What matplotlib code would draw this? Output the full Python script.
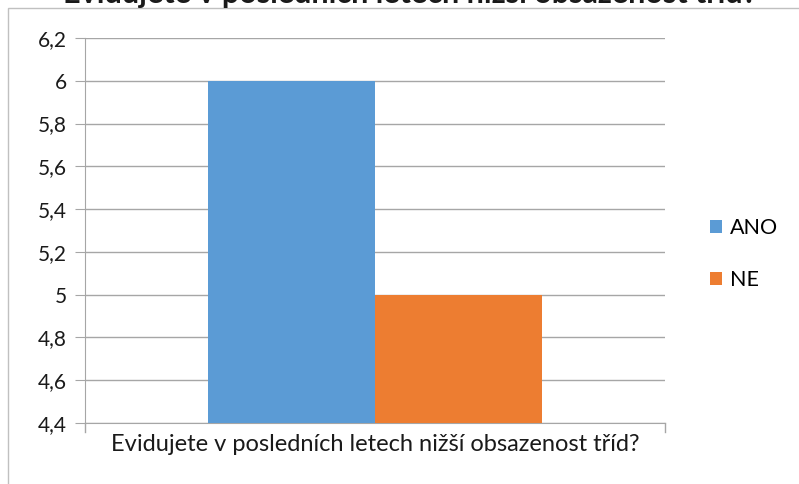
import numpy as np
import matplotlib.pyplot as plt
from matplotlib.patches import Rectangle

plt.rcParams['font.family'] = ['Lato', 'DejaVu Sans']

category = 'Evidujete v posledních letech nižší obsazenost tříd?'
series = ['ANO', 'NE']
values = [6, 5]
colors = ['#5B9BD5', '#ED7D31']
yticks = [4.4, 4.6, 4.8, 5.0, 5.2, 5.4, 5.6, 5.8, 6.0, 6.2]

W, H = 799, 484
fig = plt.figure(figsize=(W / 100, H / 100), dpi=100)
ax = fig.add_axes([85 / W, 1 - 423 / H, 580 / W, (423 - 38) / H])

bw = 0.288
offsets = [-bw / 2, bw / 2]
for s, v, col, o in zip(series, values, colors, offsets):
    ax.bar(o, v - 4.4, bottom=4.4, width=bw, color=col, label=s, zorder=3)

ax.set_xlim(-0.5, 0.5)
ax.set_ylim(4.4, 6.2)
ax.set_yticks(yticks)
ax.set_yticklabels([('%g' % t).replace('.', ',') for t in yticks], fontsize=15)
ax.set_xticks([])
ax.grid(axis='y', color='#a6a6a6', linewidth=1, zorder=0)
for sp in ['top', 'right']:
    ax.spines[sp].set_visible(False)
ax.spines['left'].set_color('#a6a6a6')
ax.spines['bottom'].set_color('#a6a6a6')
ax.tick_params(axis='y', length=7, color='#a6a6a6', pad=6, labelcolor='#1a1a1a')
ax.set_xlabel(category, fontsize=17, labelpad=8, color='#1a1a1a')
# little end ticks below x axis
for xe in [-0.5, 0.5]:
    ax.plot([xe, xe], [4.4, 4.4 - 0.04], color='#a6a6a6', lw=1, clip_on=False)

ax.legend(loc='center left', bbox_to_anchor=(1.062, 0.439), frameon=False,
          fontsize=15.5, handlelength=0.56, handleheight=0.56,
          labelspacing=1.5, handletextpad=0.4, borderaxespad=0)

# chart area border, partially cut off
fig.add_artist(Rectangle((8 / W, -0.1), 1.2, 1 - 8 / H + 0.1,
                         transform=fig.transFigure, fill=False,
                         edgecolor='#c0c0c0', lw=1))
fig.text(410 / W, 1 - 2.5 / H, category, ha='center', va='baseline',
         fontsize=22, fontweight='bold', color='#1a1a1a')

fig.savefig('out.png', dpi=100)
